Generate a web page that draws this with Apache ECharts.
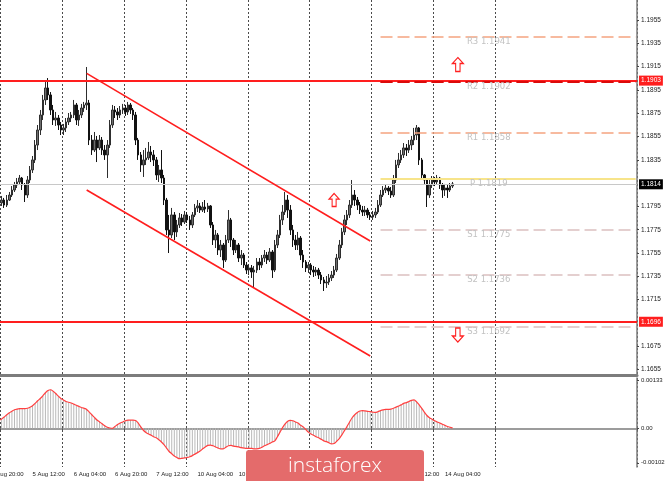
<!DOCTYPE html>
<html><head><meta charset="utf-8">
<script src="https://cdn.jsdelivr.net/npm/echarts@6/dist/echarts.min.js"></script>
<style>html,body{margin:0;padding:0;background:#fff;}#c{width:665px;height:481px;}</style>
</head><body><div id="c"></div>
<script>
// ---------- data ----------
const timeLabels = ['4 Aug 20:00','5 Aug 12:00','6 Aug 04:00','6 Aug 20:00','7 Aug 12:00','10 Aug 04:00','10 Aug 20:00','11 Aug 12:00','12 Aug 04:00','12 Aug 20:00','13 Aug 12:00','14 Aug 04:00'];
const barsPerLabel = 16;
const slotCount = 251;               // bars + empty future slots
const daySplits = [4,28,52,76,100,124,148,172,196];
const priceTicks = [1.1655,1.1675,1.1715,1.1735,1.1755,1.1775,1.1795,1.1835,1.1855,1.1875,1.1895,1.1915,1.1935,1.1955];
const indTickPos = [0.00126, 0, -0.00091];
const indTickText = ['0.00133','0.00','-0.00102'];

const openP = [
1.17937,1.17962,1.17988,1.18005,
1.17980,1.18005,1.17962,1.18005,1.18048,1.18091,1.18134,1.18160,1.18194,1.18134,
1.18048,1.18177,1.18263,1.18349,1.18477,1.18606,1.18735,1.18864,1.18967,1.18907,
1.18778,1.18692,1.18709,1.18649,1.18606,1.18624,1.18675,1.18709,1.18735,1.18821,
1.18692,1.18735,1.18795,1.18821,1.18838,1.18520,1.18434,1.18520,1.18452,1.18520,
1.18434,1.18392,1.18477,1.18649,1.18778,1.18761,1.18735,1.18778,1.18795,1.18761,
1.18821,1.18778,1.18735,1.18520,1.18392,1.18306,1.18349,1.18366,1.18417,1.18392,
1.18349,1.18220,1.18263,1.18194,1.18005,1.17748,1.17705,1.17877,1.17731,1.17791,
1.17851,1.17816,1.17877,1.17834,1.17791,1.17877,1.17937,1.17954,1.17919,1.17945,
1.17928,1.17954,1.17791,1.17662,1.17705,1.17576,1.17619,1.17490,1.17662,1.17834,
1.17662,1.17576,1.17619,1.17507,1.17533,1.17447,1.17404,1.17422,1.17387,1.17404,
1.17473,1.17447,1.17507,1.17533,1.17490,1.17559,1.17404,1.17619,1.17705,1.17834,
1.17902,1.18005,1.17919,1.17748,1.17662,1.17619,1.17679,1.17533,1.17473,1.17422,
1.17447,1.17404,1.17387,1.17404,1.17361,1.17319,1.17293,1.17301,1.17336,1.17361,
1.17404,1.17507,1.17619,1.17731,1.17834,1.17877,1.17962,1.18048,1.18005,1.17962,
1.17919,1.17902,1.17919,1.17877,1.17859,1.17877,1.17902,1.17962,1.18048,1.18091,
1.18108,1.18082,1.18048,1.18177,1.18306,1.18349,1.18392,1.18452,1.18434,1.18477,
1.18520,1.18563,1.18624,1.18349,1.18220,1.18177,1.18048,1.18134,1.18177,1.18160,
1.18194,1.18134,1.18091,1.18108,1.18091,1.18125
];
const closeP = [
1.17962,1.17988,1.18005,1.17980,
1.18005,1.17962,1.18005,1.18048,1.18091,1.18134,1.18160,1.18194,1.18134,1.18048,
1.18177,1.18263,1.18349,1.18477,1.18606,1.18735,1.18864,1.18967,1.18907,1.18778,
1.18692,1.18709,1.18649,1.18606,1.18624,1.18675,1.18709,1.18735,1.18821,1.18692,
1.18735,1.18795,1.18821,1.18838,1.18520,1.18434,1.18520,1.18452,1.18520,1.18434,
1.18392,1.18477,1.18649,1.18778,1.18761,1.18735,1.18778,1.18795,1.18761,1.18821,
1.18778,1.18735,1.18520,1.18392,1.18306,1.18349,1.18366,1.18417,1.18392,1.18349,
1.18220,1.18263,1.18194,1.18005,1.17748,1.17705,1.17877,1.17731,1.17791,1.17851,
1.17816,1.17877,1.17834,1.17791,1.17877,1.17937,1.17954,1.17919,1.17945,1.17928,
1.17954,1.17791,1.17662,1.17705,1.17576,1.17619,1.17490,1.17662,1.17834,1.17662,
1.17576,1.17619,1.17507,1.17533,1.17447,1.17404,1.17422,1.17387,1.17404,1.17473,
1.17447,1.17507,1.17533,1.17490,1.17559,1.17404,1.17619,1.17705,1.17834,1.17902,
1.18005,1.17919,1.17748,1.17662,1.17619,1.17679,1.17533,1.17473,1.17422,1.17447,
1.17404,1.17387,1.17404,1.17361,1.17319,1.17293,1.17301,1.17336,1.17361,1.17404,
1.17507,1.17619,1.17731,1.17834,1.17877,1.17962,1.18048,1.18005,1.17962,1.17919,
1.17902,1.17919,1.17877,1.17859,1.17877,1.17902,1.17962,1.18048,1.18091,1.18108,
1.18082,1.18048,1.18177,1.18306,1.18349,1.18392,1.18452,1.18434,1.18477,1.18520,
1.18563,1.18624,1.18349,1.18220,1.18177,1.18048,1.18134,1.18177,1.18160,1.18194,
1.18134,1.18091,1.18108,1.18091,1.18125,1.18143
];
const highP = [
1.18005,1.18023,1.18040,1.18031,
1.18040,1.18023,1.18048,1.18074,1.18125,1.18160,1.18194,1.18220,1.18203,1.18151,
1.18211,1.18297,1.18383,1.18520,1.18649,1.18778,1.18907,1.19018,1.19052,1.18932,
1.18821,1.18761,1.18735,1.18675,1.18658,1.18709,1.18752,1.18761,1.18864,1.18838,
1.18778,1.18830,1.18847,1.19147,1.18864,1.18563,1.18589,1.18555,1.18563,1.18546,
1.18477,1.18520,1.18692,1.18821,1.18812,1.18795,1.18812,1.18830,1.18821,1.18847,
1.18838,1.18795,1.18761,1.18538,1.18417,1.18434,1.18452,1.18503,1.18469,1.18434,
1.18374,1.18306,1.18434,1.18220,1.18023,1.17877,1.17937,1.17902,1.17834,1.17894,
1.17885,1.17911,1.17902,1.17868,1.17902,1.17971,1.18005,1.17980,1.17988,1.18005,
1.17980,1.17962,1.17816,1.17748,1.17722,1.17662,1.17636,1.17705,1.17919,1.17851,
1.17679,1.17662,1.17636,1.17576,1.17550,1.17473,1.17456,1.17447,1.17439,1.17507,
1.17507,1.17533,1.17576,1.17559,1.17593,1.17576,1.17662,1.17748,1.17877,1.17962,
1.18074,1.18048,1.17962,1.17791,1.17705,1.17731,1.17696,1.17576,1.17490,1.17473,
1.17464,1.17439,1.17430,1.17422,1.17387,1.17344,1.17353,1.17370,1.17396,1.17439,
1.17542,1.17662,1.17765,1.17877,1.17919,1.18005,1.18177,1.18091,1.18031,1.17988,
1.17954,1.17954,1.17937,1.17902,1.17911,1.17937,1.18005,1.18091,1.18125,1.18134,
1.18125,1.18117,1.18220,1.18349,1.18409,1.18434,1.18494,1.18486,1.18520,1.18555,
1.18624,1.18649,1.18632,1.18366,1.18228,1.18194,1.18177,1.18211,1.18203,1.18220,
1.18203,1.18151,1.18143,1.18134,1.18151,1.18160
];
const lowP = [
1.17919,1.17945,1.17971,1.17954,
1.17954,1.17937,1.17945,1.17997,1.18031,1.18074,1.18108,1.18134,1.18091,1.17988,
1.18023,1.18151,1.18237,1.18323,1.18434,1.18563,1.18692,1.18821,1.18864,1.18735,
1.18649,1.18641,1.18606,1.18563,1.18563,1.18589,1.18649,1.18675,1.18709,1.18649,
1.18641,1.18709,1.18761,1.18778,1.18477,1.18392,1.18417,1.18331,1.18434,1.18392,
1.18349,1.18194,1.18452,1.18624,1.18709,1.18692,1.18709,1.18744,1.18727,1.18735,
1.18744,1.18692,1.18477,1.18349,1.18246,1.18203,1.18306,1.18349,1.18331,1.18297,
1.18177,1.18160,1.18151,1.17962,1.17705,1.17550,1.17679,1.17662,1.17688,1.17765,
1.17782,1.17799,1.17808,1.17748,1.17765,1.17859,1.17902,1.17894,1.17902,1.17894,
1.17902,1.17765,1.17619,1.17593,1.17533,1.17516,1.17422,1.17473,1.17636,1.17602,
1.17533,1.17550,1.17473,1.17447,1.17422,1.17370,1.17361,1.17336,1.17258,1.17379,
1.17404,1.17422,1.17473,1.17456,1.17473,1.17336,1.17387,1.17593,1.17679,1.17791,
1.17877,1.17851,1.17705,1.17602,1.17576,1.17576,1.17490,1.17422,1.17387,1.17379,
1.17361,1.17344,1.17353,1.17327,1.17284,1.17224,1.17250,1.17276,1.17310,1.17336,
1.17387,1.17490,1.17593,1.17705,1.17791,1.17851,1.17937,1.17954,1.17919,1.17885,
1.17868,1.17868,1.17851,1.17834,1.17834,1.17851,1.17885,1.17945,1.18031,1.18065,
1.18048,1.18023,1.18031,1.18151,1.18280,1.18323,1.18366,1.18383,1.18409,1.18434,
1.18477,1.18520,1.18306,1.18194,1.18143,1.17945,1.18023,1.18108,1.18125,1.18134,
1.18100,1.18023,1.18040,1.18023,1.18074,1.18108
];
const macd = [
0.00010,0.00014,0.00018,0.00021,
0.00025,0.00030,0.00036,0.00041,0.00045,0.00049,0.00051,0.00052,0.00052,0.00052,
0.00053,0.00056,0.00060,0.00066,0.00073,0.00079,0.00086,0.00094,0.00100,0.00102,
0.00098,0.00092,0.00085,0.00079,0.00075,0.00071,0.00069,0.00067,0.00064,0.00061,
0.00058,0.00055,0.00053,0.00050,0.00043,0.00036,0.00029,0.00022,0.00017,0.00012,
0.00007,0.00003,0.00001,0.00000,0.00005,0.00010,0.00014,0.00017,0.00020,0.00022,
0.00022,0.00022,0.00021,0.00014,0.00004,-0.00005,-0.00011,-0.00015,-0.00018,-0.00022,
-0.00025,-0.00030,-0.00036,-0.00043,-0.00052,-0.00061,-0.00067,-0.00073,-0.00077,-0.00080,
-0.00079,-0.00078,-0.00077,-0.00075,-0.00072,-0.00068,-0.00064,-0.00060,-0.00054,-0.00049,
-0.00045,-0.00044,-0.00046,-0.00049,-0.00052,-0.00054,-0.00054,-0.00050,-0.00046,-0.00045,
-0.00047,-0.00048,-0.00049,-0.00051,-0.00052,-0.00053,-0.00053,-0.00053,-0.00054,-0.00054,
-0.00053,-0.00050,-0.00046,-0.00043,-0.00040,-0.00036,-0.00033,-0.00022,-0.00010,0.00002,
0.00012,0.00019,0.00021,0.00020,0.00017,0.00014,0.00008,0.00004,-0.00003,-0.00010,
-0.00015,-0.00018,-0.00022,-0.00025,-0.00029,-0.00033,-0.00035,-0.00038,-0.00041,-0.00040,
-0.00034,-0.00027,-0.00017,-0.00006,0.00005,0.00017,0.00028,0.00036,0.00042,0.00046,
0.00047,0.00046,0.00045,0.00044,0.00043,0.00042,0.00044,0.00047,0.00049,0.00050,
0.00050,0.00051,0.00053,0.00056,0.00059,0.00062,0.00066,0.00068,0.00071,0.00074,
0.00075,0.00070,0.00062,0.00053,0.00043,0.00034,0.00028,0.00024,0.00020,0.00017,
0.00014,0.00011,0.00008,0.00005,0.00003,0.00001
];
const keyLevels = [1.1903, 1.1696];
const currentPrice = 1.1814;
const pivotNames = ['R3','R2','R1','P','S1','S2','S3'];
const pivotValues = [1.1941,1.1902,1.1858,1.1819,1.1775,1.1736,1.1692];
const pivotColors = ['#f5a480','#cc2020','#f5a480','#f7e48a','#dcc0c0','#dcc0c0','#dcc0c0'];
const pivotStartIdx = 151, pivotEndIdx = 250, pivotLabelIdx = 193;
const channelUpper = [[37, 1.19092], [147, 1.17653]];
const channelLower = [[37, 1.18091], [147, 1.16666]];
const arrowMarks = [
  {idx: 181, price: 1.19168, dir: 'up', size: [11, 14]},
  {idx: 133, price: 1.18005, dir: 'up', size: [10, 13]},
  {idx: 181, price: 1.16846, dir: 'down', size: [11, 14]}
];

// ---------- build ----------
const cats = Array.from({length: slotCount}, (_, k) => 'b' + k);
const candles = openP.map((o, i) => [o, closeP[i], lowP[i], highP[i]]);
const isDay = (i) => daySplits.indexOf(i) >= 0;
const FONT = 'Liberation Sans';
const UP_ARROW = 'path://M5,0 L10,6 L7,6 L7,14 L3,14 L3,6 L0,6 Z';
const DN_ARROW = 'path://M3,0 L7,0 L7,8 L10,8 L5,14 L0,8 L3,8 Z';

const boxLabel = (txt, bg) => ({show: true, position: 'end', distance: 2, formatter: txt,
  backgroundColor: bg, color: '#fff', fontSize: 6.5, fontFamily: FONT, padding: [2, 2, 1, 2]});

const markLines = [];
markLines.push({yAxis: currentPrice, lineStyle: {color: '#c8c8c8', width: 1, type: 'solid'},
  label: boxLabel(currentPrice.toFixed(4), '#000')});
pivotValues.forEach((v, i) => {
  markLines.push([{coord: [pivotStartIdx, v], lineStyle: {color: pivotColors[i], width: pivotNames[i] === 'P' ? 2 : 1.5,
      type: pivotNames[i] === 'P' ? 'solid' : [12, 5]}, label: {show: false}},
    {coord: [pivotEndIdx, v]}]);
});
keyLevels.forEach(v => markLines.push({yAxis: v, lineStyle: {color: '#ff1e1e', width: 2, type: 'solid'},
  label: boxLabel(v.toFixed(4), '#ff1e1e')}));
// R2 dashes drawn over the red level line
markLines.push([{coord: [pivotStartIdx, pivotValues[1]], lineStyle: {color: '#dc0a0a', width: 2, type: [12, 5]}, label: {show: false}},
  {coord: [pivotEndIdx, pivotValues[1]]}]);
[channelUpper, channelLower].forEach(seg => markLines.push([
  {coord: seg[0], lineStyle: {color: '#ff1e1e', width: 1.6, type: 'solid'}, label: {show: false}},
  {coord: seg[1]}]));

const markPoints = [];
pivotValues.forEach((v, i) => markPoints.push({coord: [pivotLabelIdx, v], symbol: 'rect', symbolSize: 1,
  itemStyle: {color: 'rgba(0,0,0,0)'},
  label: {show: true, position: 'inside', offset: [0, 5], formatter: pivotNames[i] + ' ' + v.toFixed(4),
    color: '#c2c2c2', fontSize: 8.5, fontFamily: 'DejaVu Sans'}}));
arrowMarks.forEach(a => markPoints.push({coord: [a.idx, a.price], symbol: a.dir === 'up' ? UP_ARROW : DN_ARROW,
  symbolSize: a.size, itemStyle: {color: '#fff', borderColor: '#ff2020', borderWidth: 1.2}, label: {show: false}}));

const chart = echarts.init(document.getElementById('c'), null, {renderer: 'canvas'});
chart.setOption({
  animation: false,
  backgroundColor: '#fff',
  textStyle: {fontFamily: FONT},
  grid: [
    {left: -10, right: 28, top: 0, height: 375, containLabel: false, outerBoundsMode: 'none'},
    {left: -10, right: 28, top: 378, height: 89, containLabel: false, outerBoundsMode: 'none'}
  ],
  xAxis: [
    {type: 'category', gridIndex: 0, data: cats, boundaryGap: true,
      axisLine: {show: true, lineStyle: {color: '#7c7c7c', width: 3}},
      axisTick: {show: false}, axisLabel: {show: false},
      splitLine: {show: true, interval: (i) => isDay(i), lineStyle: {color: '#4a4a4a', width: 1, type: [2, 2]}}},
    {type: 'category', gridIndex: 1, data: cats, boundaryGap: true,
      axisLine: {show: true, lineStyle: {color: '#7c7c7c', width: 1.5}},
      axisTick: {show: true, interval: (i) => isDay(i), length: 2, lineStyle: {color: '#555'}},
      axisLabel: {show: true, interval: 0, align: 'left', margin: 4, fontSize: 6, color: '#222', fontFamily: FONT,
        formatter: (v, i) => (i % barsPerLabel === 0 && timeLabels[i / barsPerLabel]) ? timeLabels[i / barsPerLabel] : ''},
      splitLine: {show: true, interval: (i) => isDay(i), lineStyle: {color: '#4a4a4a', width: 1, type: [2, 2]}}}
  ],
  yAxis: [
    {type: 'value', gridIndex: 0, position: 'right', min: 1.16503, max: 1.19722, scale: true,
      axisLine: {show: true, lineStyle: {color: '#7c7c7c', width: 1.5}},
      axisTick: {show: true, length: 2, customValues: priceTicks, lineStyle: {color: '#444'}},
      axisLabel: {show: true, margin: 4, fontSize: 6.5, color: '#222', fontFamily: FONT, customValues: priceTicks,
        formatter: (v) => v.toFixed(4)},
      splitLine: {show: false}},
    {type: 'value', gridIndex: 1, position: 'right', min: -0.00102, max: 0.00133,
      axisLine: {show: true, lineStyle: {color: '#7c7c7c', width: 1.5}},
      axisTick: {show: true, length: 2, customValues: indTickPos, lineStyle: {color: '#444'}},
      axisLabel: {show: true, margin: 4, fontSize: 6, color: '#222', fontFamily: FONT, customValues: indTickPos,
        formatter: (v) => { let b = 0; indTickPos.forEach((p, i) => { if (Math.abs(p - v) < Math.abs(indTickPos[b] - v)) b = i; }); return indTickText[b]; }},
      splitLine: {show: false}}
  ],
  series: [
    {type: 'candlestick', xAxisIndex: 0, yAxisIndex: 0, data: candles, barWidth: 2,
      itemStyle: {color: '#6e6e6e', color0: '#111', borderColor: '#2e2e2e', borderColor0: '#111', borderWidth: 1},
      markLine: {silent: true, symbol: ['none', 'none'], precision: 5, animation: false, data: markLines},
      markPoint: {silent: true, animation: false, data: markPoints}},
    {type: 'bar', xAxisIndex: 1, yAxisIndex: 1, data: macd, barWidth: 1, itemStyle: {color: '#b9b9b9'}},
    {type: 'line', xAxisIndex: 1, yAxisIndex: 1, data: macd, smooth: 0.3, symbol: 'none',
      lineStyle: {color: '#ff4040', width: 1.2}, z: 5}
  ],
  graphic: [
    {type: 'rect', z: 100, shape: {x: 246, y: 450, width: 178, height: 32, r: [3, 3, 0, 0]},
      style: {fill: '#e46b6b'}},
    {type: 'text', z: 101, style: {text: 'instaforex', x: 335, y: 466, align: 'center', verticalAlign: 'middle',
      fill: '#ffffff', font: '300 21px "Open Sans"'}}
  ]
});
</script>
</body></html>
